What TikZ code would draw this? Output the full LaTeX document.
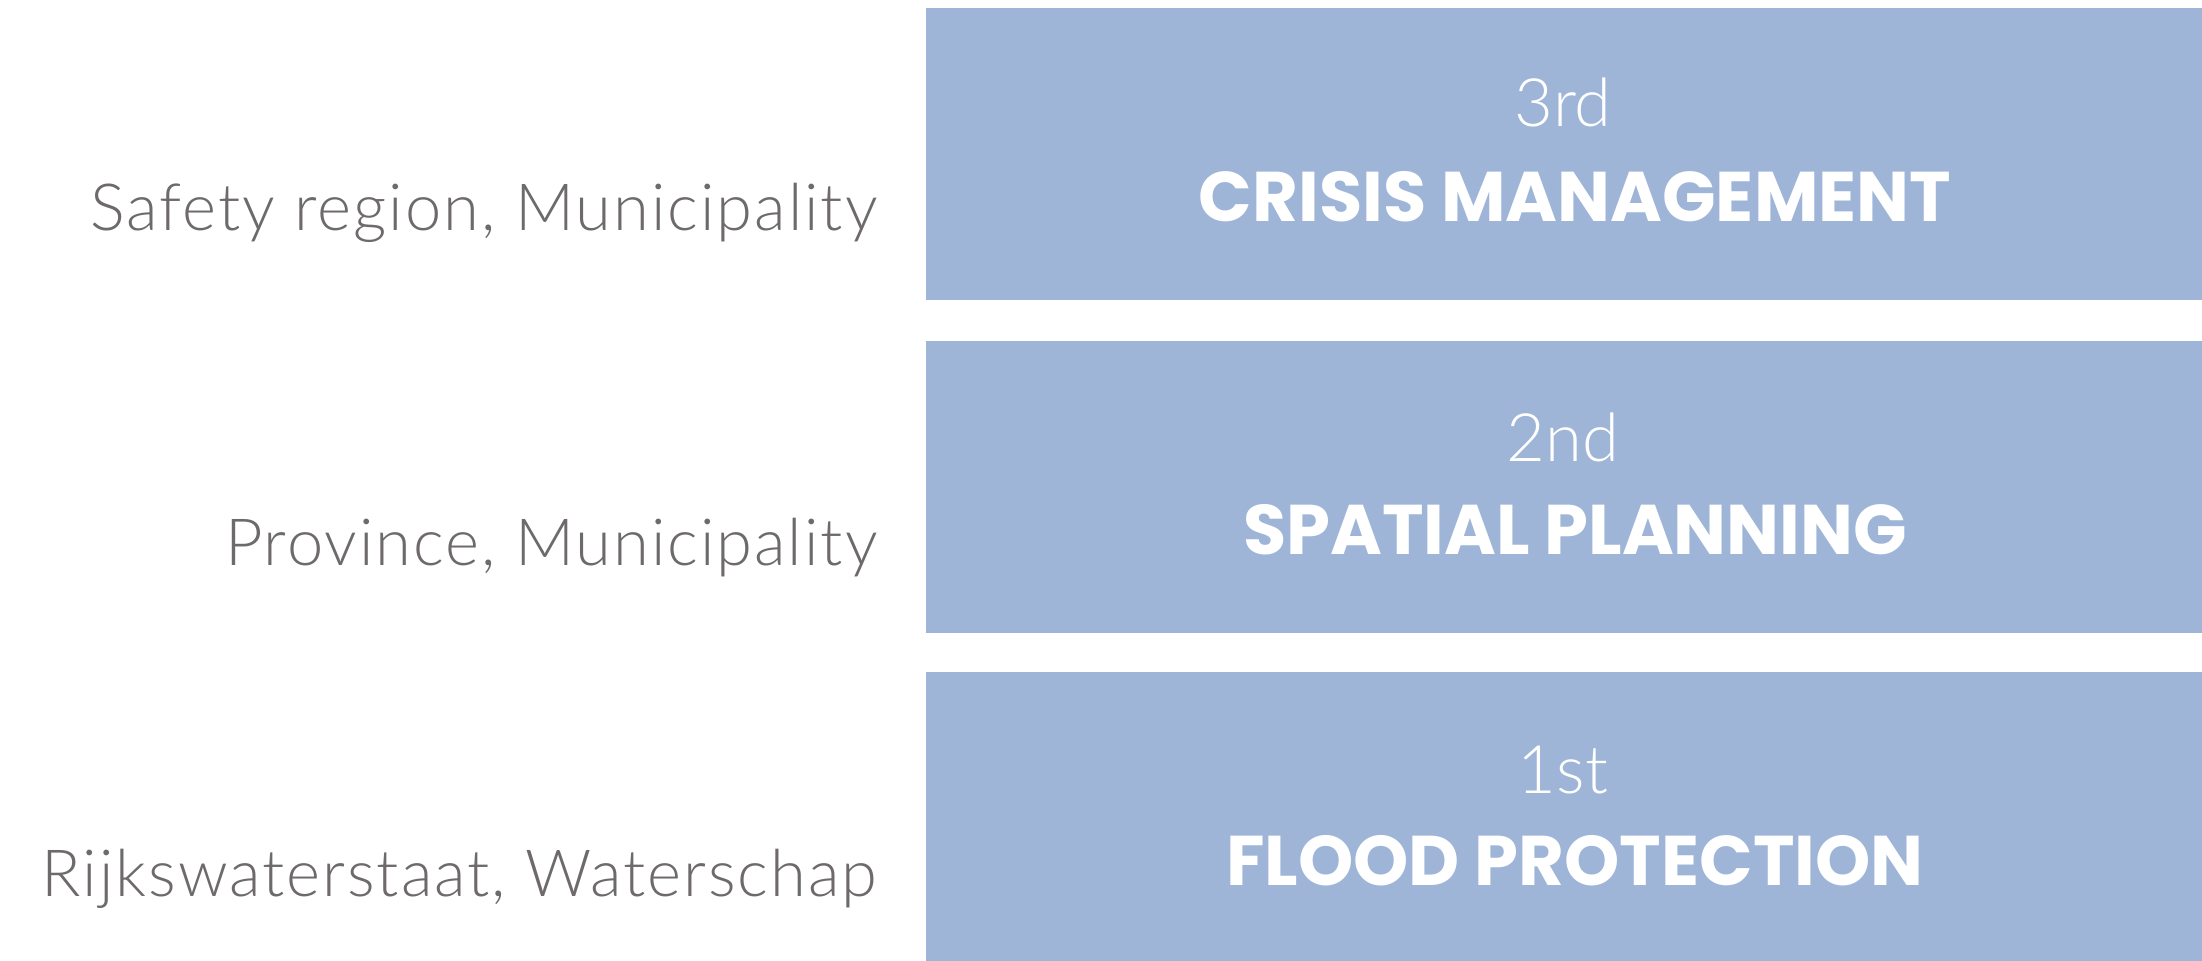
\documentclass[tikz,border=0pt]{standalone}
\usepackage{fontspec}
\setmainfont{Poppins}
\newfontfamily\thinfont{Lato Light}
\newfontfamily\thinspaced{Lato Light}[LetterSpace=3]
\definecolor{layerblue}{HTML}{9EB5D8}
\definecolor{labelgray}{HTML}{6E6A6B}
\tikzset{
    layer/.style={fill=layerblue, draw=none, inner sep=0pt, anchor=north west,
        minimum width=12.77cm},
    who/.style={text=labelgray, inner sep=0pt, anchor=base east, font=\thinspaced\fontsize{18.5}{22}\selectfont},
    rank/.style={text=white, inner sep=0pt, anchor=base, font=\thinfont\fontsize{19}{23}\selectfont},
    title/.style={text=white, inner sep=0pt, anchor=base, font=\fontsize{20}{24}\selectfont\bfseries}
}
\begin{document}
\begin{tikzpicture}[x=0.01cm, y=-0.01cm]
            \useasboundingbox (0,0) rectangle (2202,960);
            \fill[white] (0,0) rectangle (2202,960);
            % the three layers
            \node[layer, minimum height=2.92cm] (crisis) at (925,7) {};
            \node[layer, minimum height=2.92cm] (spatial) at (925,340) {};
            \node[layer, minimum height=2.89cm] (flood) at (925,671) {};
            \node[rank] (crisisnr) at (1563,126) {3rd};
            \node[title] (crisistitle) at (1575,221) {CRISIS MANAGEMENT};
            \node[rank] (spatialnr) at (1563,461) {2nd};
            \node[title] (spatialtitle) at (1575,554) {SPATIAL PLANNING};
            \node[rank] (floodnr) at (1563,793) {1st};
            \node[title] (floodtitle) at (1575,885) {FLOOD PROTECTION};
            % who is in charge
            \node[who] (crisiswho) at (878,230) {Safety region, Municipality};
            \node[who] (spatialwho) at (878,565) {Province, Municipality};
            \node[who] (floodwho) at (878,896) {Rijkswaterstaat, Waterschap};
        \end{tikzpicture}
\end{document}
